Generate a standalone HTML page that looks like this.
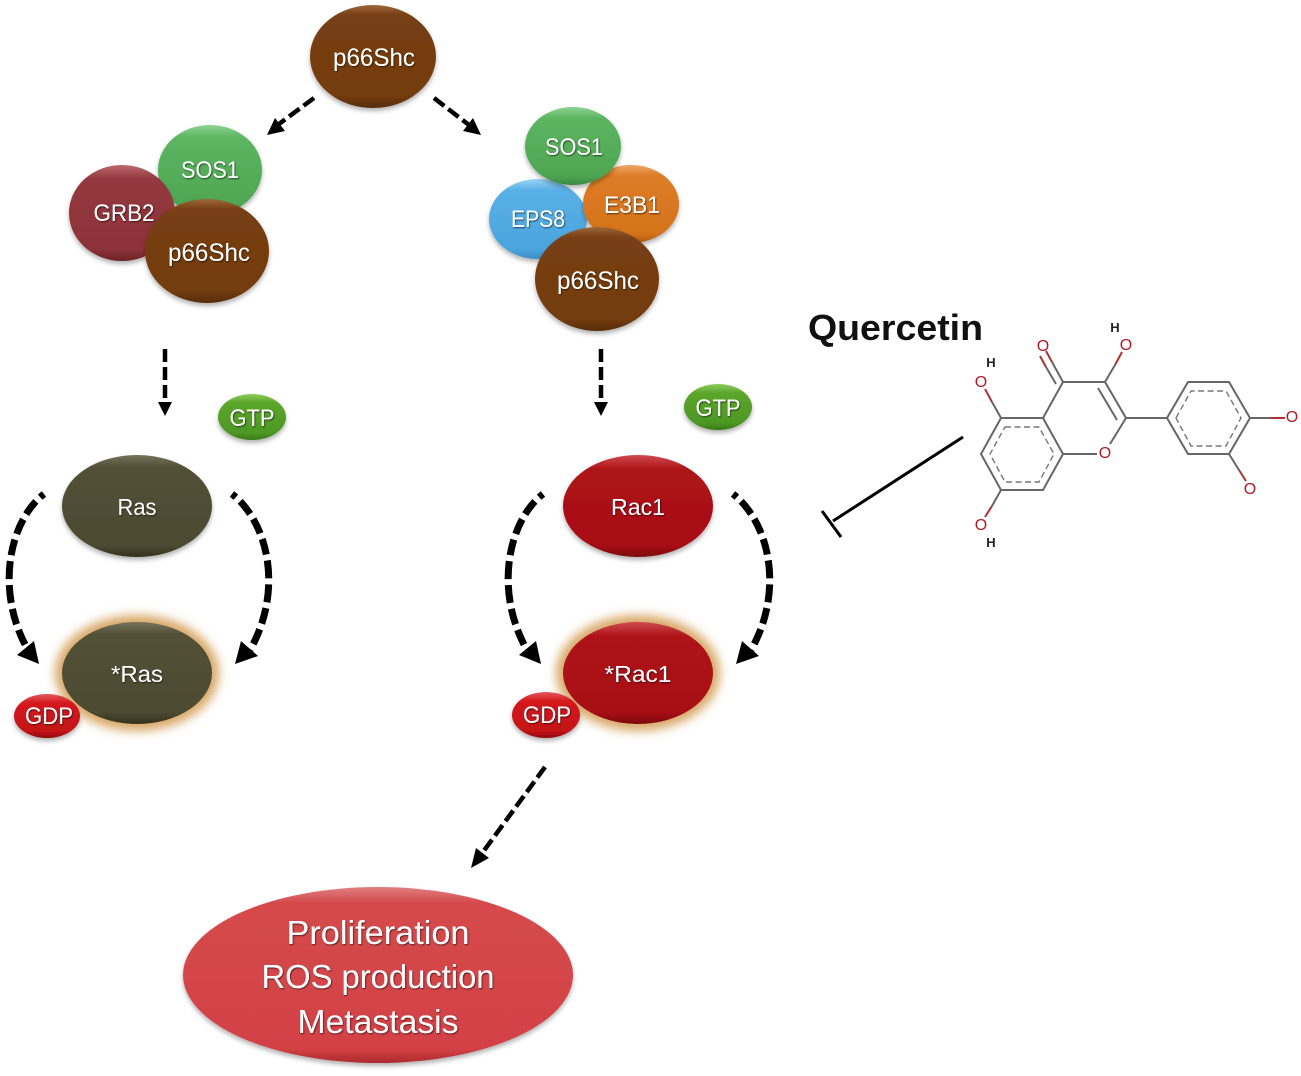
<!DOCTYPE html>
<html>
<head>
<meta charset="utf-8">
<style>
html,body{margin:0;padding:0;background:#fff;width:1301px;height:1076px;overflow:hidden}
svg{display:block}
text{font-family:"Liberation Sans",sans-serif}
.t{fill:#fff;text-anchor:middle;filter:url(#ts)}
.a{fill:none;stroke:#000;stroke-linecap:butt}
.m{stroke:#666;stroke-width:2;fill:none}
.d{stroke:#777;stroke-width:1.4;stroke-dasharray:6 3.5;fill:none}
.r{stroke:#a33;stroke-width:2;fill:none}
.o{fill:#b01c24;font-size:16px;text-anchor:middle}
.h{fill:#222;font-size:13px;font-weight:bold;text-anchor:middle}
</style>
</head>
<body>
<svg width="1301" height="1076" viewBox="0 0 1301 1076" xmlns="http://www.w3.org/2000/svg">
<defs>
<filter id="ts" x="-10%" y="-20%" width="120%" height="150%"><feDropShadow dx="0.8" dy="1" stdDeviation="0.9" flood-color="#000" flood-opacity=".6"/></filter>
<filter id="sh" x="-10%" y="-10%" width="120%" height="125%"><feDropShadow dx="0" dy="3" stdDeviation="2.5" flood-color="#000" flood-opacity=".3"/></filter>
<filter id="gl" x="-30%" y="-30%" width="160%" height="160%"><feGaussianBlur stdDeviation="5"/></filter>
<linearGradient id="brown" x1="0" y1="0" x2="0" y2="1"><stop offset="0" stop-color="#9c683a"/><stop offset=".1" stop-color="#773f13"/><stop offset=".88" stop-color="#733c0e"/><stop offset="1" stop-color="#562c07"/></linearGradient>
<linearGradient id="green" x1="0" y1="0" x2="0" y2="1"><stop offset="0" stop-color="#8fd293"/><stop offset=".14" stop-color="#5cb561"/><stop offset=".88" stop-color="#4fa653"/><stop offset="1" stop-color="#3a8a40"/></linearGradient>
<linearGradient id="maroon" x1="0" y1="0" x2="0" y2="1"><stop offset="0" stop-color="#bc6a6e"/><stop offset=".14" stop-color="#94393f"/><stop offset=".88" stop-color="#8c3238"/><stop offset="1" stop-color="#6e2328"/></linearGradient>
<linearGradient id="blue" x1="0" y1="0" x2="0" y2="1"><stop offset="0" stop-color="#9bd3f3"/><stop offset=".14" stop-color="#58b0e6"/><stop offset=".88" stop-color="#4ba4dd"/><stop offset="1" stop-color="#3a8dc4"/></linearGradient>
<linearGradient id="orange" x1="0" y1="0" x2="0" y2="1"><stop offset="0" stop-color="#eda666"/><stop offset=".14" stop-color="#dd7c26"/><stop offset=".88" stop-color="#d5731c"/><stop offset="1" stop-color="#ad5a10"/></linearGradient>
<linearGradient id="olive" x1="0" y1="0" x2="0" y2="1"><stop offset="0" stop-color="#74725a"/><stop offset=".12" stop-color="#525037"/><stop offset=".88" stop-color="#4d4a32"/><stop offset="1" stop-color="#35321d"/></linearGradient>
<linearGradient id="red" x1="0" y1="0" x2="0" y2="1"><stop offset="0" stop-color="#cf4a4e"/><stop offset=".14" stop-color="#ad1318"/><stop offset=".88" stop-color="#a80f14"/><stop offset="1" stop-color="#7d090d"/></linearGradient>
<linearGradient id="gdp" x1="0" y1="0" x2="0" y2="1"><stop offset="0" stop-color="#e25a5d"/><stop offset=".2" stop-color="#d41a1f"/><stop offset=".85" stop-color="#c31217"/><stop offset="1" stop-color="#8f0a0e"/></linearGradient>
<linearGradient id="gtp" x1="0" y1="0" x2="0" y2="1"><stop offset="0" stop-color="#8ccc5c"/><stop offset=".2" stop-color="#5ba52c"/><stop offset=".85" stop-color="#4e9724"/><stop offset="1" stop-color="#397818"/></linearGradient>
<linearGradient id="big" x1="0" y1="0" x2="0" y2="1"><stop offset="0" stop-color="#df7f80"/><stop offset=".09" stop-color="#d54a4c"/><stop offset=".92" stop-color="#d34145"/><stop offset="1" stop-color="#ad2a2e"/></linearGradient>
</defs>

<rect width="1301" height="1076" fill="#fff"/>

<!-- nodes -->
<g filter="url(#sh)"><ellipse cx="373" cy="56.5" rx="63" ry="51.5" fill="url(#brown)"/></g>
<g filter="url(#sh)"><ellipse cx="210" cy="170" rx="52" ry="45" fill="url(#green)"/></g>
<g filter="url(#sh)"><ellipse cx="122" cy="213" rx="53" ry="48" fill="url(#maroon)"/></g>
<g filter="url(#sh)"><ellipse cx="207" cy="251" rx="62" ry="52" fill="url(#brown)"/></g>

<g filter="url(#sh)"><ellipse cx="538" cy="219" rx="49" ry="40" fill="url(#blue)"/></g>
<g filter="url(#sh)"><ellipse cx="631" cy="204" rx="48" ry="39" fill="url(#orange)"/></g>
<g filter="url(#sh)"><ellipse cx="573" cy="146" rx="48" ry="39" fill="url(#green)"/></g>
<g filter="url(#sh)"><ellipse cx="597" cy="279" rx="62" ry="52" fill="url(#brown)"/></g>

<g filter="url(#sh)"><ellipse cx="252" cy="417" rx="34" ry="23" fill="url(#gtp)"/></g>
<g filter="url(#sh)"><ellipse cx="718" cy="407" rx="34" ry="23" fill="url(#gtp)"/></g>

<g filter="url(#sh)"><ellipse cx="137" cy="506" rx="75" ry="51" fill="url(#olive)"/></g>
<g filter="url(#sh)"><ellipse cx="638" cy="506" rx="75" ry="51" fill="url(#red)"/></g>

<ellipse cx="137" cy="673" rx="82" ry="58" fill="#d8a868" filter="url(#gl)"/>
<ellipse cx="638" cy="673" rx="82" ry="58" fill="#d8a868" filter="url(#gl)"/>
<ellipse cx="137" cy="673" rx="75" ry="51" fill="url(#olive)"/>
<ellipse cx="638" cy="673" rx="75" ry="51" fill="url(#red)"/>

<g filter="url(#sh)"><ellipse cx="47" cy="716" rx="33" ry="22" fill="url(#gdp)"/></g>
<g filter="url(#sh)"><ellipse cx="546" cy="715" rx="34" ry="23" fill="url(#gdp)"/></g>

<g filter="url(#sh)"><ellipse cx="378" cy="975" rx="195" ry="88" fill="url(#big)"/></g>

<!-- labels -->
<g class="t" font-size="25">
<text x="374" y="66" textLength="82" lengthAdjust="spacingAndGlyphs">p66Shc</text>
<text x="210" y="178" font-size="24" textLength="58" lengthAdjust="spacingAndGlyphs">SOS1</text>
<text x="124" y="221" font-size="24" textLength="61" lengthAdjust="spacingAndGlyphs">GRB2</text>
<text x="209" y="261" textLength="82" lengthAdjust="spacingAndGlyphs">p66Shc</text>
<text x="574" y="155" font-size="24" textLength="58" lengthAdjust="spacingAndGlyphs">SOS1</text>
<text x="632" y="213" font-size="24" textLength="56" lengthAdjust="spacingAndGlyphs">E3B1</text>
<text x="538" y="227" font-size="24" textLength="54" lengthAdjust="spacingAndGlyphs">EPS8</text>
<text x="598" y="289" textLength="82" lengthAdjust="spacingAndGlyphs">p66Shc</text>
<text x="252" y="426" font-size="24" textLength="45" lengthAdjust="spacingAndGlyphs">GTP</text>
<text x="718" y="416" font-size="24" textLength="45" lengthAdjust="spacingAndGlyphs">GTP</text>
<text x="137" y="515" font-size="23" textLength="39" lengthAdjust="spacingAndGlyphs">Ras</text>
<text x="638" y="515" font-size="23" textLength="54" lengthAdjust="spacingAndGlyphs">Rac1</text>
<text x="137" y="682" font-size="23" textLength="52" lengthAdjust="spacingAndGlyphs">*Ras</text>
<text x="638" y="682" font-size="23" textLength="67" lengthAdjust="spacingAndGlyphs">*Rac1</text>
<text x="49" y="724" font-size="24" textLength="48" lengthAdjust="spacingAndGlyphs">GDP</text>
<text x="547" y="723" font-size="24" textLength="48" lengthAdjust="spacingAndGlyphs">GDP</text>
<text x="378" y="944" font-size="33" textLength="183" lengthAdjust="spacingAndGlyphs">Proliferation</text>
<text x="378" y="988" font-size="33" textLength="233" lengthAdjust="spacingAndGlyphs">ROS production</text>
<text x="378" y="1033" font-size="33" textLength="161" lengthAdjust="spacingAndGlyphs">Metastasis</text>
</g>

<!-- straight arrows -->
<g class="a" stroke-width="4.5" stroke-dasharray="13 5">
<line x1="314" y1="98" x2="279" y2="124"/>
<line x1="434" y1="98" x2="469" y2="125"/>
<line x1="165" y1="349" x2="165" y2="404"/>
<line x1="601" y1="349" x2="601" y2="404"/>
<line x1="545" y1="767" x2="483" y2="852"/>
</g>
<g fill="#000">
<polygon points="267,135 275,118 285,131"/>
<polygon points="481,135 463,131 473,118"/>
<polygon points="165,416 158,402 172,402"/>
<polygon points="601,416 594,402 608,402"/>
<polygon points="471,868 476,848 489,858"/>
</g>

<!-- curved arrows -->
<g class="a" stroke-width="7" stroke-dasharray="5 6 16 6 16 6 16 6 18 6 18 6 16 6 16 6 40 0">
<path d="M44,494 C10,520 -6,590 28,650"/>
<path d="M232,494 C268,522 284,590 250,650"/>
<path d="M543,494 C509,520 493,590 527,650"/>
<path d="M733,494 C769,522 785,590 751,650"/>
</g>
<g fill="#000">
<polygon points="39,664 17,655 34,641"/>
<polygon points="235,664 241,641 258,656"/>
<polygon points="541,664 519,655 536,641"/>
<polygon points="736,664 742,641 759,656"/>
</g>

<!-- Quercetin -->
<text x="808" y="340" font-size="36" font-weight="bold" fill="#111" textLength="175" lengthAdjust="spacingAndGlyphs">Quercetin</text>
<line x1="963" y1="437" x2="833" y2="521" stroke="#000" stroke-width="3"/>
<line x1="822" y1="511" x2="841" y2="537" stroke="#000" stroke-width="3"/>

<!-- molecule -->
<path class="m" d="M1001,418 L1043,418 L1063,454 L1043,490 L1001,490 L981,454 Z"/>
<path class="d" d="M1005,427 L1039,427 L1054,454 L1039,482 L1005,482 L990,454 Z"/>
<path class="m" d="M1043,418 L1063,382 L1105,382 L1126,418 M1063,454 L1097,454 M1126,418 L1110,444 M1098,388 L1117,420 M1126,418 L1167,418"/>
<path class="m" d="M1167,418 L1188,382 L1229,382 L1250,418 L1229,454 L1188,454 Z"/>
<path class="d" d="M1176,418 L1191,391 L1226,391 L1241,418 L1226,446 L1191,446 Z"/>
<path class="m" d="M1063,382 L1052,362 M1056,384 L1046,367"/>
<path class="r" d="M1052,362 L1046,351 M1046,367 L1040,356"/>
<path class="m" d="M1105,382 L1115,365"/>
<path class="r" d="M1115,365 L1122,352"/>
<path class="m" d="M1001,418 L992,402"/>
<path class="r" d="M992,402 L985,389"/>
<path class="m" d="M1001,490 L992,506"/>
<path class="r" d="M992,506 L985,517"/>
<path class="m" d="M1250,418 L1270,418"/>
<path class="r" d="M1270,418 L1285,418"/>
<path class="m" d="M1229,454 L1239,470"/>
<path class="r" d="M1239,470 L1246,481"/>
<text class="o" x="1043" y="351">O</text>
<text class="o" x="1126" y="350">O</text>
<text class="o" x="981" y="387">O</text>
<text class="o" x="981" y="530">O</text>
<text class="o" x="1105" y="458">O</text>
<text class="o" x="1292" y="422">O</text>
<text class="o" x="1250" y="494">O</text>
<text class="h" x="1115" y="332">H</text>
<text class="h" x="991" y="367">H</text>
<text class="h" x="991" y="547">H</text>
</svg>
</body>
</html>
